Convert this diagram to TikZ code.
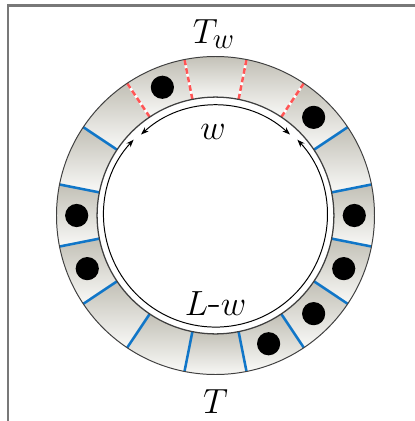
\documentclass[tikz,border=0pt]{standalone}
\usepackage{amsmath}
\usetikzlibrary{arrows.meta}

\definecolor{ringdark}{RGB}{194,192,182}
\definecolor{ringlight}{RGB}{249,249,247}
\definecolor{cutblue}{RGB}{16,118,200}
\definecolor{cutred}{RGB}{255,85,85}

\begin{document}
\begin{tikzpicture}[
  cell/.style={top color=ringdark, bottom color=ringlight},
  ringline/.style={black!75, line width=0.7pt},
  bluecut/.style={cutblue, line width=1.8pt},
  redcut/.style={cutred, line width=1.8pt, dash pattern=on 4pt off 2.2pt},
  particle/.style={fill=black},
  span/.style={line width=0.7pt, {Stealth[length=5.5pt,width=4pt]}-{Stealth[length=5.5pt,width=4pt]}},
  lbl/.style={font=\fontsize{30}{36}\selectfont, inner sep=0pt, anchor=base}
]
\useasboundingbox (-5.3875,-5.1375) rectangle (4.9875,5.3875);

% frame
\draw[black!53, line width=1.5pt] (-5.1875,-5.3) -- (-5.1875,5.25) -- (5.1,5.25);

% ring cells
\foreach \a [evaluate=\a as \lo using \a-11.25, evaluate=\a as \hi using \a+11.25] in {0,22.5,...,337.5}
  \shade[cell] (\lo:2.96) arc[start angle=\lo, end angle=\hi, radius=2.96]
    -- (\hi:3.975) arc[start angle=\hi, end angle=\lo, radius=3.975] -- cycle;

% walls between cells
\foreach \a in {146.25,168.75,191.25,213.75,236.25,258.75,281.25,303.75,326.25,348.75,11.25,33.75}
  \draw[bluecut] (\a:2.96) -- (\a:3.975);
\foreach \a in {56.25,78.75,101.25,123.75} {
  \draw[white, line width=1.8pt] (\a:2.96) -- (\a:3.975);
  \draw[redcut] (\a:2.96) -- (\a:3.975);
}

% outlines
\draw[ringline] (0,0) circle[radius=3.975];
\draw[ringline, line width=0.9pt] (0,0) circle[radius=2.96];

% particles
\foreach \a in {112.5,45,0,-22.5,-45,-67.5,180,202.5}
  \fill[particle] (\a:3.47) circle[radius=0.29];

% distances along the ring
\draw[span] (132.6:2.75) arc[start angle=132.6, end angle=47.4, radius=2.75];
\draw[span] (137.2:2.79) arc[start angle=137.2, end angle=402.8, radius=2.79];

% labels
\node[lbl] (Tw) at (-0.04,4.31) {$T_w$};
\node[lbl] (w) at (-0.06,1.91) {$w$};
\node[lbl] (Lw) at (0,-2.49) {$L$-$w$};
\node[lbl] (T) at (0,-4.94) {$T$};

\end{tikzpicture}
\end{document}
